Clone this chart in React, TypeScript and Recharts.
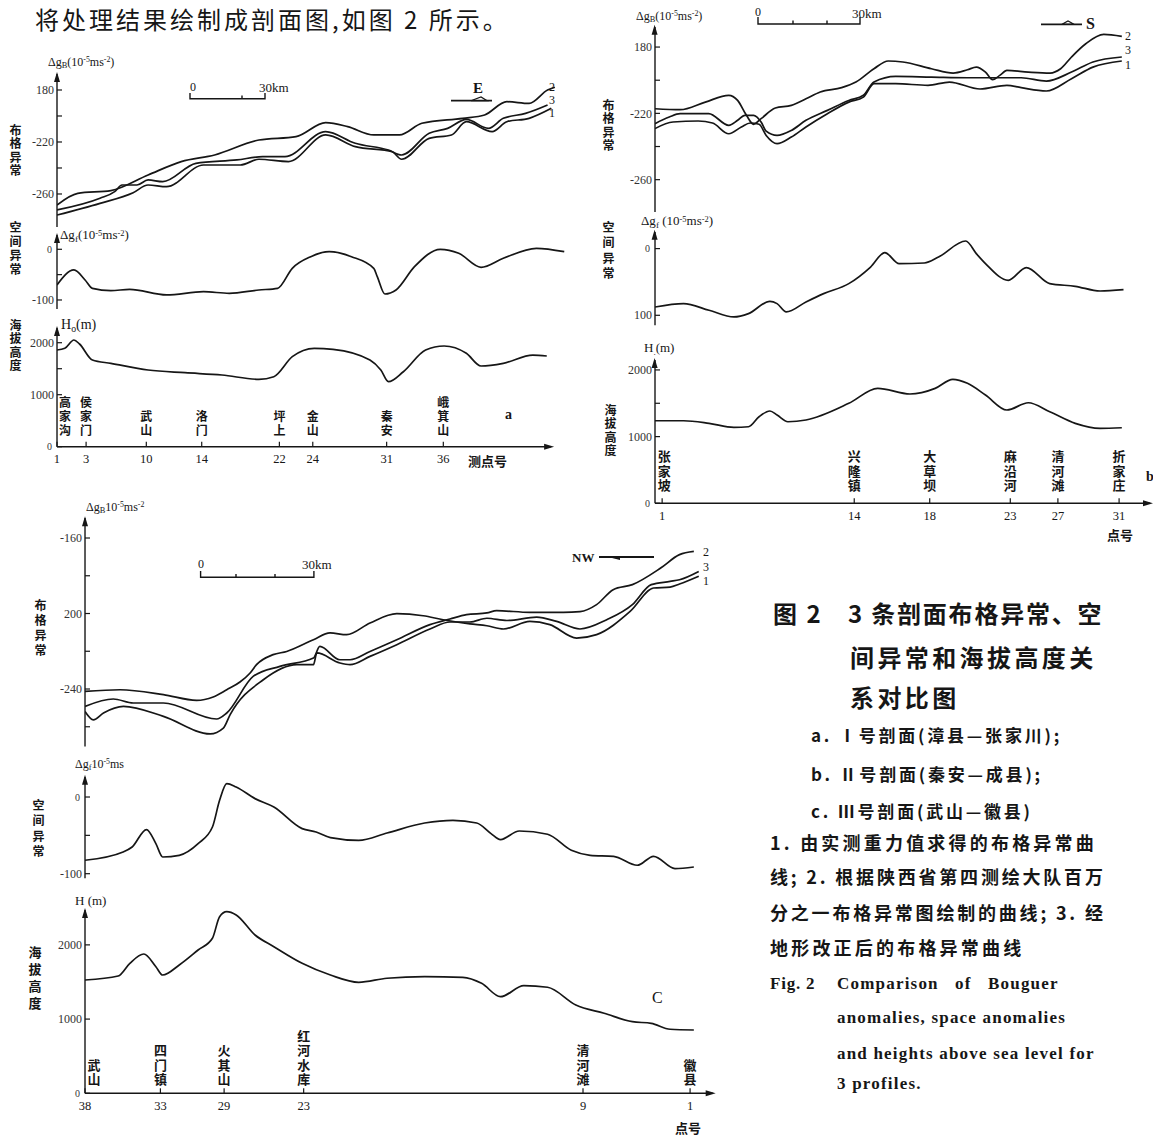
import React from "react";
import { LineChart, Line, XAxis, YAxis } from "recharts";

type Pt = [number, number];

const INK = "#161616";
const SERIF = "'Liberation Serif', 'DejaVu Serif', serif";
const CJK = "'Noto Sans CJK SC', 'Noto Sans', sans-serif";

// ---------- profile a (I 号剖面), x = km along the profile ----------
const aBouguer1: Pt[] = [[0,-276.2],[17,-267.2],[30.1,-259],[36,-253.1],[43.3,-254.4],[57.9,-237.7],[72.5,-237.7],[79.8,-233.3],[91.5,-235.1],[106.2,-214.6],[117.9,-223.6],[132.5,-227.5],[136.2,-233.3],[147.1,-217.2],[155.9,-214.6],[161.8,-204.4],[172,-212],[177.8,-204.4],[186.6,-201.8],[195.4,-194.1]];
const aBouguer2: Pt[] = [[0,-268.5],[8.2,-259.5],[21.3,-257.4],[36,-245.4],[49.1,-235.1],[62.3,-230],[79.8,-218.5],[94.5,-215.9],[106.2,-205.1],[114.9,-208.2],[125.2,-214.6],[135.4,-214.6],[144.2,-205.6],[160.3,-201.8],[169,-199.2],[177.8,-189],[186.6,-190.3],[193.9,-180],[196.8,-177.9]];
const aBouguer3: Pt[] = [[0,-272.3],[17,-263.3],[22.8,-258.2],[25.7,-253.1],[31.6,-253.1],[36,-249.2],[41.8,-250.5],[54.9,-236.4],[71.1,-233.8],[81.3,-231.3],[90.1,-231.3],[106.2,-212],[117.9,-221],[131,-226.2],[136.2,-230],[147.1,-213.3],[154.4,-209.5],[161.8,-202.6],[170.5,-209.5],[176.4,-201.8],[185.2,-198],[193.9,-191.5]];
const aSpace: Pt[] = [[0,-70.4],[6.7,-40.8],[11.1,-60.6],[14,-77],[21.3,-81.6],[28.7,-79],[43.3,-90],[57.9,-83.6],[68.1,-86.8],[79.8,-80.3],[87.2,-77],[93,-37.5],[100.3,-14.6],[107.6,-4.7],[116.4,-14.6],[125.2,-37.5],[126.6,-54],[129.6,-88.2],[134,-80.3],[141.3,-34.3],[151.5,0],[158.8,-7.9],[167.6,-35.5],[176.4,-17.8],[189.5,2],[200.5,-4.7]];
const aHeight: Pt[] = [[0,1860],[3.1,1892],[6.7,2052],[8.9,1975],[14,1667],[21.3,1603],[36,1475],[50.6,1423],[65.2,1379],[79.8,1296],[85.7,1346],[93,1731],[101.7,1892],[109.1,1873],[123.7,1667],[128,1475],[131,1250],[136.9,1442],[145.7,1860],[153,1937],[161.8,1796],[167.6,1552],[176.4,1603],[188.1,1763],[193.6,1744]];
const aStationKm = [0, 11.5, 35.3, 57.2, 87.9, 101.1, 130.3, 152.7];
const aStationNo = ["1", "3", "10", "14", "22", "24", "31", "36"];
const aStationName = ["高家沟", "侯家门", "武山", "洛门", "坪上", "金山", "秦安", "峨箕山"];
const aBTicks = [-180, -200, -220, -240, -260];
const aBTickText = ["180", "", "-220", "", "-260"];
const aSTicks = [0, -50, -100];
const aSTickText = ["0", "", "-100"];
const aHTicks = [2000, 1500, 1000, 0];
const aHTickText = ["2000", "", "1000", "0"];

// ---------- profile b (II 号剖面) ----------
const bBouguer1: Pt[] = [[0,-229.2],[5.3,-225.2],[12.7,-224.6],[16.9,-225.8],[21.7,-232.3],[25.4,-228.2],[28,-225.8],[30.6,-226.6],[32.7,-233.3],[35.9,-238.3],[40.1,-234.3],[44.4,-228.2],[50.7,-220.2],[57,-213.2],[61.3,-210.2],[64.4,-202.1],[70.8,-202.1],[80.3,-203.1],[86.6,-201.1],[95.6,-205.3],[103.5,-203.1],[107.7,-204.5],[115.1,-206.5],[122.5,-199.1],[128.8,-192.1],[137.3,-188.4]];
const bBouguer2: Pt[] = [[0,-217.2],[7.4,-217.8],[14.8,-213.2],[21.7,-209.1],[24.3,-212.2],[26.9,-221.2],[29,-226.6],[31.2,-223.2],[35.4,-216.8],[40.1,-215.2],[44.4,-211.2],[48.6,-207.1],[54.9,-204.5],[59.1,-201.1],[64.4,-193.1],[68.6,-188.4],[72.9,-189],[81.3,-193.1],[87.7,-195.7],[91.9,-193.7],[94.5,-192.1],[97.2,-195.1],[99.3,-199.7],[101.4,-197.1],[103.5,-194.1],[109.8,-195.1],[116.2,-195.7],[119.3,-193.1],[122.5,-186],[126.7,-178],[132,-172.4],[137.3,-173.6]];
const bBouguer3: Pt[] = [[0,-226.2],[4.2,-222.2],[7.4,-220.2],[15.8,-220.2],[21.7,-227.2],[24.3,-224.2],[26.4,-221.2],[29,-221.2],[31.2,-225.2],[32.7,-230.7],[35.9,-233.3],[40.1,-230.3],[44.4,-224.2],[50.7,-218.2],[57,-212.2],[61.3,-209.1],[64.4,-201.1],[70.8,-197.7],[81.3,-198.1],[91.9,-198.5],[107.7,-198.5],[115.1,-200.5],[122.5,-195.1],[128.8,-189],[137.3,-186]];
const bSpace: Pt[] = [[0,-87.6],[8.4,-82.5],[15.9,-92.5],[23.2,-102.5],[27.5,-97.5],[33.8,-79],[35.9,-82.5],[38.6,-95],[44.4,-80],[49.6,-67.5],[57,-52.5],[63.4,-27.6],[67.6,-6],[71.8,-22.5],[79.2,-21.6],[83.4,-12.6],[91.4,11.4],[94.5,-7.5],[97.2,-22.5],[103.9,-47.5],[109.2,-28.5],[116.1,-52.5],[123.6,-56.5],[130.9,-63.6],[137.8,-61.5]];
const bHeight: Pt[] = [[0,1238],[8.4,1238],[15.9,1199],[23.2,1139],[27.5,1148],[30.6,1298],[33.8,1384],[35.9,1324],[39.1,1223],[44.4,1249],[57,1499],[65.5,1724],[75,1639],[82.4,1724],[87.6,1859],[91.9,1799],[97.2,1624],[103.5,1399],[109.8,1508],[116.1,1373],[123.6,1199],[130.9,1124],[137.3,1133]];
const bStationKm = [2.1, 58.6, 80.8, 104.5, 118.5, 136.5];
const bStationNo = ["1", "14", "18", "23", "27", "31"];
const bStationName = ["张家坡", "兴隆镇", "大草坝", "麻沿河", "清河滩", "折家庄"];
const bBTicks = [-180, -200, -220, -240, -260];
const bBTickText = ["180", "", "-220", "", "-260"];
const bSTicks = [0, -100];
const bSTickText = ["0", "100"];
const bHTicks = [2000, 1500, 1000, 0];
const bHTickText = ["2000", "", "1000", "0"];

// ---------- profile c (III 号剖面) ----------
const cBouguer1: Pt[] = [[0,-241.3],[9.3,-240.4],[20.8,-243],[29.6,-246],[34,-244.2],[37.6,-240.4],[41.1,-236.3],[43.8,-231.5],[45.5,-227.1],[49.9,-221.8],[53.5,-220.1],[60.6,-213.9],[65,-210.3],[69.4,-211.2],[75.6,-205],[82.7,-200.1],[89.7,-201.2],[95,-203.3],[102.1,-205.5],[106.6,-206.5],[111,-208.2],[118,-204.2],[123.3,-205.9],[130.4,-213],[135.7,-211.2],[144.6,-198.9],[150.8,-186.5],[155.2,-186],[157.7,-184.4],[162.8,-180.3]];
const cBouguer2: Pt[] = [[0,-249.2],[7.5,-245.3],[12.8,-247.4],[20.8,-247.4],[34.9,-255.9],[37.6,-252.7],[44.6,-233.3],[51.7,-228],[60.6,-223.6],[62.3,-217.4],[67.6,-224.5],[70.3,-224.5],[75.6,-220.1],[82.7,-213.9],[91.5,-205.9],[96.8,-202.9],[101.2,-200.6],[106.6,-199.7],[109.2,-198.5],[118,-199.4],[126.9,-199.4],[131.3,-199],[135.7,-195.3],[140.1,-187.4],[145.2,-184.7],[152.7,-175.9],[157.7,-168.8],[161.5,-167.1]];
const cBouguer3: Pt[] = [[0,-251.9],[2.2,-256.3],[4.9,-252.7],[10.2,-249.2],[20.8,-254.5],[33.2,-263.8],[36.7,-260.7],[38.5,-253.6],[47.3,-235.1],[56.2,-227.1],[60.6,-227.1],[61.5,-220.9],[67.6,-226.2],[70.3,-227.1],[75.6,-222.7],[82.7,-216.5],[91.5,-208.2],[96.8,-204.5],[102.1,-204.5],[106.6,-202.5],[111.9,-203.7],[119.8,-201.9],[125.1,-204.2],[131.3,-208.2],[138.4,-203.3],[145.2,-195.3],[150.2,-184.7],[155.2,-183],[157.7,-182.1],[162.8,-177.7]];
const cSpace: Pt[] = [[0,-82.5],[10.1,-71.7],[12.5,-65.2],[16.3,-42.5],[18.8,-60.8],[20.6,-78.2],[25,-76],[30,-60.8],[33.8,-39.1],[35.7,-4.3],[37.6,17.5],[40.1,13],[45.1,-2.1],[50.1,-13],[57.6,-41.2],[61.3,-45.6],[65.1,-52.9],[72.6,-56.5],[80.1,-46.9],[90.1,-33.9],[97.6,-30.4],[103.9,-33.9],[107.7,-47.7],[110.2,-55.5],[115.2,-44.3],[122.7,-48.6],[129,-69.5],[134,-76],[140.2,-77.3],[146.5,-89],[150.8,-77.3],[156.5,-93.4],[161.5,-91.3]];
const cHeight: Pt[] = [[0,1527],[8.8,1581],[11.9,1752],[15.6,1877],[18.8,1706],[20.6,1594],[25,1729],[30,1931],[33.8,2089],[35.7,2380],[37.6,2447],[40.1,2403],[45.1,2133],[50.1,1976],[57.6,1752],[65.1,1594],[72.6,1496],[80.1,1550],[90.1,1571],[100.2,1563],[105.2,1482],[110.2,1302],[116.4,1450],[122.7,1429],[130.2,1190],[137.7,1078],[145.2,965],[150.2,943],[155.2,863],[161.5,853]];
const cStationKm = [0, 20, 36.9, 58, 132.1, 160.5];
const cStationNo = ["38", "33", "29", "23", "9", "1"];
const cStationName = ["武山", "四门镇", "火其山", "红河水库", "清河滩", "徽县"];
const cBTicks = [-160, -180, -200, -220, -240, -260];
const cBTickText = ["-160", "", "200", "", "-240", ""];
const cSTicks = [0, -50, -100];
const cSTickText = ["0", "", "-100"];
const cHTicks = [2000, 1000, 0];
const cHTickText = ["2000", "1000", "0"];

interface Stations {
  km: number[];
  no: string[];
  name: string[];
  firstDx: number;
  font: number;
  step: number;
  gap: number;
}

interface StripProps {
  axisX: number;
  top: number;
  height: number;
  pxKm: number;
  xMax: number;
  yDomain: [number, number];
  yTicks: number[];
  yText: string[];
  series: Pt[][];
  stations?: Stations;
}

const AXW = 50;
const XAH = 42;
const PAD = 8;

function YTick({ x, y, payload, ticks, text }: any) {
  const label = text[ticks.indexOf(payload.value)] ?? "";
  const small = label === "0";
  return (
    <g>
      <line x1={x} x2={x + 5} y1={y} y2={y} stroke={INK} strokeWidth={1.2} />
      {label ? (
        <text
          x={x - (small ? 5 : 3)}
          y={y}
          dy="0.35em"
          textAnchor="end"
          fontSize={small ? 10 : 12}
          fontFamily={SERIF}
          fill="#333"
        >
          {label}
        </text>
      ) : null}
    </g>
  );
}

// station number under the axis, place name written vertically above it
function StationTick({ x, y, payload, st }: any) {
  const i = st.km.indexOf(payload.value);
  if (i < 0) return null;
  const name = st.name[i] as string;
  const n = Array.from(name).length;
  const nx = x + (i === 0 ? st.firstDx : 0);
  const topY = y - st.gap - n * st.step;
  return (
    <g>
      <line x1={x} x2={x} y1={y} y2={y - 5} stroke={INK} strokeWidth={1.2} />
      <text x={x} y={y + 12} dy="0.35em" textAnchor="middle" fontSize={12.5} fontFamily={SERIF} fill={INK}>
        {st.no[i]}
      </text>
      <text
        x={nx}
        y={topY}
        fontSize={st.font}
        fontWeight={700}
        fontFamily={CJK}
        fill={INK}
        letterSpacing={st.step - st.font}
        style={{ writingMode: "vertical-rl" }}
      >
        {name}
      </text>
    </g>
  );
}

function Strip({ axisX, top, height, pxKm, xMax, yDomain, yTicks, yText, series, stations }: StripProps) {
  const width = xMax * pxKm;
  const h = height + PAD * 2 + (stations ? XAH : 0);
  return (
    <div style={{ position: "absolute", left: axisX - AXW, top: top - PAD, width: AXW + width + 2, height: h }}>
      <LineChart width={AXW + width} height={h} margin={{ top: PAD, right: 0, bottom: PAD, left: 0 }}>
        <XAxis
          type="number"
          dataKey="x"
          domain={[0, xMax]}
          allowDataOverflow
          hide={!stations}
          ticks={stations ? stations.km : undefined}
          interval={0}
          height={XAH}
          tickSize={0}
          tickMargin={0}
          tickLine={false}
          axisLine={{ stroke: INK, strokeWidth: 1.6 }}
          tick={stations ? (p: any) => <StationTick {...p} st={stations} /> : false}
        />
        <YAxis
          type="number"
          domain={yDomain}
          allowDataOverflow
          ticks={yTicks}
          interval={0}
          width={AXW}
          tickSize={0}
          tickMargin={0}
          tickLine={false}
          axisLine={{ stroke: INK, strokeWidth: 1.4 }}
          tick={(p: any) => <YTick {...p} ticks={yTicks} text={yText} />}
        />
        {series.map((s, i) => (
          <Line
            key={i}
            data={s.map(([x, y]) => ({ x, y }))}
            dataKey="y"
            type="monotone"
            dot={false}
            activeDot={false}
            stroke={INK}
            strokeWidth={1.7}
            isAnimationActive={false}
          />
        ))}
      </LineChart>
    </div>
  );
}

function Txt({ x, y, size = 12, bold = false, font = SERIF, spacing = 0, weight, children }: any) {
  return (
    <div
      style={{
        position: "absolute",
        left: x,
        top: y,
        transform: "translateY(-50%)",
        fontSize: size,
        fontWeight: weight ?? (bold ? 700 : 400),
        fontFamily: font,
        letterSpacing: spacing,
        lineHeight: 1,
        whiteSpace: "nowrap",
        color: INK,
      }}
    >
      {children}
    </div>
  );
}

function VText({ x, y, text, size = 12, step = 14 }: any) {
  return (
    <div
      style={{
        position: "absolute",
        left: x - size / 2,
        top: y,
        fontSize: size,
        lineHeight: 1,
        writingMode: "vertical-rl",
        letterSpacing: step - size,
        fontFamily: CJK,
        fontWeight: 700,
        whiteSpace: "nowrap",
        color: INK,
      }}
    >
      {text}
    </div>
  );
}

const sub = { fontSize: "0.7em", verticalAlign: "-0.25em" };
const sup = { fontSize: "0.65em", verticalAlign: "0.45em" };

export default function App() {
  const aSt: Stations = { km: aStationKm, no: aStationNo, name: aStationName, firstDx: 8, font: 12, step: 14, gap: 8 };
  const bSt: Stations = { km: bStationKm, no: bStationNo, name: bStationName, firstDx: 2, font: 13, step: 14.5, gap: 10 };
  const cSt: Stations = { km: cStationKm, no: cStationNo, name: cStationName, firstDx: 9, font: 13, step: 14.5, gap: 6 };

  const strips: StripProps[] = [
    { axisX: 57, top: 74, height: 153, pxKm: 2.53, xMax: 200, yDomain: [-285.4, -167.7], yTicks: aBTicks, yText: aBTickText, series: [aBouguer1, aBouguer2, aBouguer3] },
    { axisX: 57, top: 235, height: 74, pxKm: 2.53, xMax: 201, yDomain: [-117.8, 28.2], yTicks: aSTicks, yText: aSTickText, series: [aSpace] },
    { axisX: 57, top: 328, height: 118.7, pxKm: 2.53, xMax: 195.3, yDomain: [0, 2283], yTicks: aHTicks, yText: aHTickText, series: [aHeight], stations: aSt },
    { axisX: 654.6, top: 26.7, height: 185, pxKm: 3.4, xMax: 140, yDomain: [-279.5, -167.9], yTicks: bBTicks, yText: bBTickText, series: [bBouguer1, bBouguer2, bBouguer3] },
    { axisX: 654.6, top: 231.7, height: 93.3, pxKm: 3.4, xMax: 140, yDomain: [-115, 24.9], yTicks: bSTicks, yText: bSTickText, series: [bSpace] },
    { axisX: 654.6, top: 360, height: 143.3, pxKm: 3.4, xMax: 145.7, yDomain: [0, 2149], yTicks: bHTicks, yText: bHTickText, series: [bHeight], stations: bSt },
    { axisX: 85, top: 518.3, height: 228.4, pxKm: 3.77, xMax: 165, yDomain: [-270.4, -149.4], yTicks: cBTicks, yText: cBTickText, series: [cBouguer1, cBouguer2, cBouguer3] },
    { axisX: 85, top: 776.7, height: 101.3, pxKm: 3.77, xMax: 165, yDomain: [-106, 26.1], yTicks: cSTicks, yText: cSTickText, series: [cSpace] },
    { axisX: 85, top: 910, height: 183.3, pxKm: 3.77, xMax: 166.5, yDomain: [0, 2470], yTicks: cHTicks, yText: cHTickText, series: [cHeight], stations: cSt },
  ];

  return (
    <div style={{ position: "absolute", left: 0, top: 0, width: 1153, height: 1135, overflow: "hidden", background: "#fff" }}>
      <div style={{ position: "absolute", left: 35, top: 1, fontSize: 24, lineHeight: "normal", fontFamily: CJK, letterSpacing: 3, color: INK, whiteSpace: "nowrap" }}>
        将处理结果绘制成剖面图,如图 2 所示。
      </div>

      {strips.map((s, i) => (
        <Strip key={i} {...s} />
      ))}

      <svg width={1153} height={1135} style={{ position: "absolute", left: 0, top: 0, pointerEvents: "none" }}>
        {strips.map((s, i) => (
          <g key={i}>
            <polygon points={`${s.axisX - 3},${s.top + 8} ${s.axisX},${s.top - 2} ${s.axisX + 3},${s.top + 8}`} fill={INK} />
            {s.stations ? (
              <polygon
                points={`${s.axisX + s.xMax * s.pxKm - 7},${s.top + s.height - 3} ${s.axisX + s.xMax * s.pxKm + 3},${s.top + s.height} ${s.axisX + s.xMax * s.pxKm - 7},${s.top + s.height + 3}`}
                fill={INK}
              />
            ) : null}
          </g>
        ))}
        <g stroke={INK} strokeWidth={1.4} fill="none">
          {/* scale bars */}
          <path d="M190,93 V98.7 H265 V93 M242,98.7 V95.5" />
          <path d="M758,17 V24 H860 V17 M793,24 V20.5 M827,24 V20.5" />
          <path d="M200.6,571 V577.3 H313.9 V571 M236,577.3 V574 M275,577.3 V574" />
          {/* direction arrows */}
          <path d="M451,100.7 H492" strokeWidth={1.8} />
          <path d="M1041,24.3 H1082" strokeWidth={1.8} />
          <path d="M599,557 H654" strokeWidth={1.8} />
        </g>
        <polygon points="471,100.7 481,97 487,100.7" fill="none" stroke={INK} strokeWidth={1.2} />
        <polygon points="1062,24.3 1068,21 1074,24.3" fill="none" stroke={INK} strokeWidth={1.2} />
        <polygon points="608,557 620,560 620,557" fill={INK} />
      </svg>

      {/* axis titles, profile a */}
      <Txt x={48} y={63} size={12}>Δg<span style={sub}>B</span>(10<span style={sup}>-5</span>ms<span style={sup}>-2</span>)</Txt>
      <Txt x={60} y={236} size={13}>Δg<span style={sub}>f</span>(10<span style={sup}>-5</span>ms<span style={sup}>-2</span>)</Txt>
      <Txt x={61} y={326} size={14}>H<span style={sub}>o</span>(m)</Txt>
      <VText x={15} y={124} text="布格异常" step={13.5} />
      <VText x={15} y={221} text="空间异常" step={14} />
      <VText x={15} y={319} text="海拔高度" step={13.5} />
      <Txt x={190} y={87} size={12}>0</Txt>
      <Txt x={259} y={87} size={13}>30km</Txt>
      <Txt x={473} y={88} size={15} bold>E</Txt>
      <Txt x={549} y={87} size={12}>2</Txt>
      <Txt x={549} y={100} size={12}>3</Txt>
      <Txt x={549} y={113} size={12}>1</Txt>
      <Txt x={505} y={415} size={14} bold>a</Txt>
      <Txt x={468} y={460} size={13} bold font={CJK}>测点号</Txt>

      {/* profile b */}
      <Txt x={636} y={17} size={12}>Δg<span style={sub}>B</span>(10<span style={sup}>-5</span>ms<span style={sup}>-2</span>)</Txt>
      <Txt x={641} y={222} size={13}>Δg<span style={sub}>f</span> (10<span style={sup}>-5</span>ms<span style={sup}>-2</span>)</Txt>
      <Txt x={644} y={349} size={13}>H<span style={sub}>.</span>(m)</Txt>
      <VText x={608} y={99} text="布格异常" step={13.5} />
      <VText x={608} y={221} text="空间异常" step={15.5} />
      <VText x={610} y={404} text="海拔高度" step={13.5} />
      <Txt x={755} y={12} size={12}>0</Txt>
      <Txt x={852} y={13} size={13}>30km</Txt>
      <Txt x={1086} y={24} size={16} bold>S</Txt>
      <Txt x={1125} y={36} size={12}>2</Txt>
      <Txt x={1125} y={50} size={12}>3</Txt>
      <Txt x={1125} y={65} size={12}>1</Txt>
      <Txt x={1146} y={477} size={14} bold>b</Txt>
      <Txt x={1107} y={534} size={13} bold font={CJK}>点号</Txt>

      {/* profile c */}
      <Txt x={86} y={508} size={12}>Δg<span style={sub}>B</span>10<span style={sup}>-5</span>ms<span style={sup}>-2</span></Txt>
      <Txt x={75} y={765} size={12}>Δg<span style={sub}>f</span>10<span style={sup}>-5</span>ms</Txt>
      <Txt x={75} y={900} size={13}>H (m)</Txt>
      <VText x={40} y={599} text="布格异常" step={15} />
      <VText x={38} y={799} text="空间异常" step={15.5} />
      <VText x={35} y={946} text="海拔高度" size={13} step={17} />
      <Txt x={198} y={564} size={12}>0</Txt>
      <Txt x={302} y={564} size={13}>30km</Txt>
      <Txt x={572} y={557} size={13} bold>NW</Txt>
      <Txt x={703} y={552} size={12}>2</Txt>
      <Txt x={703} y={567} size={12}>3</Txt>
      <Txt x={703} y={581} size={12}>1</Txt>
      <Txt x={652} y={998} size={16}>C</Txt>
      <Txt x={675} y={1127} size={13} bold font={CJK}>点号</Txt>

      {/* caption */}
      <Txt x={773} y={613} size={24} font={CJK} weight={700} spacing={2}>图 2</Txt>
      <Txt x={848} y={613} size={24} font={CJK} weight={700} spacing={1.8}>3 条剖面布格异常、空</Txt>
      <Txt x={850} y={657} size={24} font={CJK} weight={700} spacing={3.4}>间异常和海拔高度关</Txt>
      <Txt x={850} y={697} size={24} font={CJK} weight={700} spacing={3.4}>系对比图</Txt>
      <Txt x={811} y={734} size={17} bold font={CJK} spacing={2.8}>a. Ⅰ号剖面(漳县—张家川);</Txt>
      <Txt x={811} y={773} size={17} bold font={CJK} spacing={2.8}>b. Ⅱ号剖面(秦安—成县);</Txt>
      <Txt x={811} y={810} size={17} bold font={CJK} spacing={2.8}>c. Ⅲ号剖面(武山—徽县)</Txt>
      <Txt x={770} y={842} size={18} bold font={CJK} spacing={3.2}>1. 由实测重力值求得的布格异常曲</Txt>
      <Txt x={770} y={876} size={18} bold font={CJK} spacing={2.8}>线; 2. 根据陕西省第四测绘大队百万</Txt>
      <Txt x={770} y={912} size={18} bold font={CJK} spacing={2.8}>分之一布格异常图绘制的曲线; 3. 经</Txt>
      <Txt x={770} y={947} size={18} bold font={CJK} spacing={3.2}>地形改正后的布格异常曲线</Txt>
      <Txt x={770} y={983} size={17} bold spacing={0.8}>Fig. 2</Txt>
      <Txt x={837} y={983} size={17} bold spacing={1.2}>Comparison&nbsp;&nbsp;&nbsp;of&nbsp;&nbsp;&nbsp;Bouguer</Txt>
      <Txt x={837} y={1017} size={17} bold spacing={1.2}>anomalies, space anomalies</Txt>
      <Txt x={837} y={1053} size={17} bold spacing={1.2}>and heights above sea level for</Txt>
      <Txt x={837} y={1083} size={17} bold spacing={1.2}>3 profiles.</Txt>
    </div>
  );
}
